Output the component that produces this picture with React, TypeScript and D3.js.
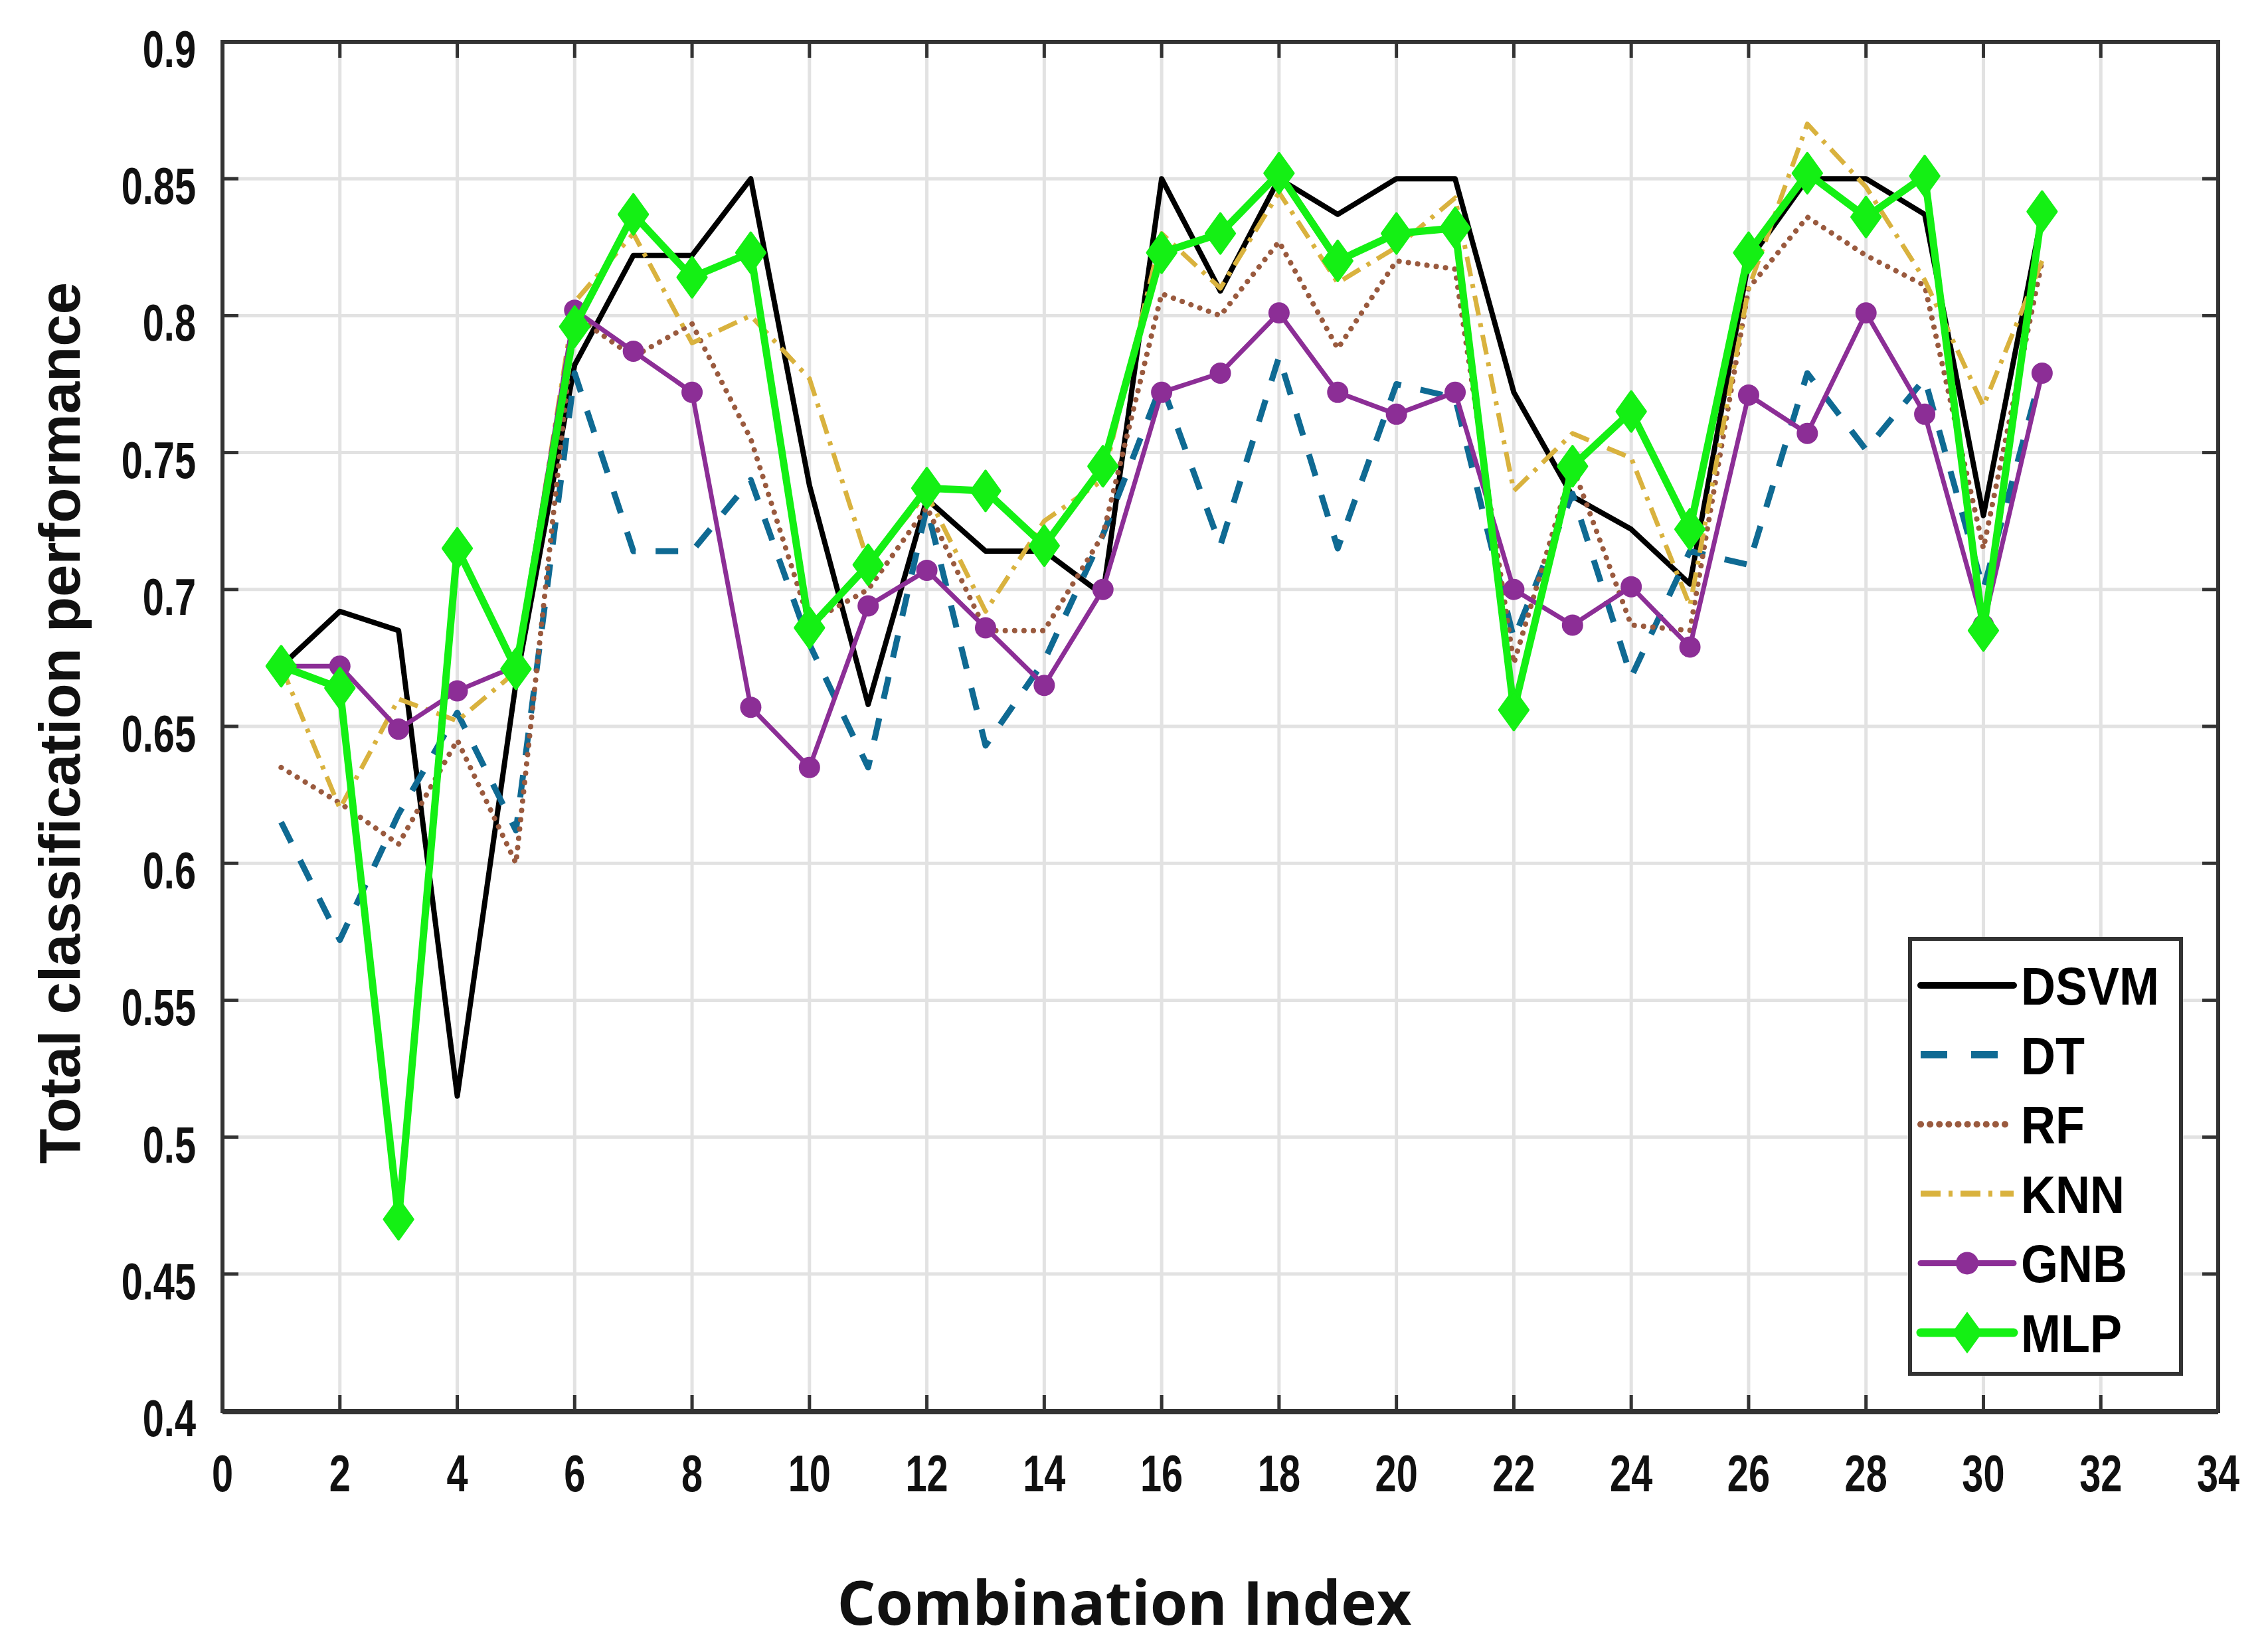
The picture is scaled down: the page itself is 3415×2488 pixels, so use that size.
import { useEffect, useRef } from "react";
import * as d3 from "d3";

// combination index 1..31
const combos = d3.range(1, 32);
const xTicks = d3.range(0, 35, 2);
const yTicks = [0.4, 0.45, 0.5, 0.55, 0.6, 0.65, 0.7, 0.75, 0.8, 0.85, 0.9];

const dsvm = [0.672, 0.692, 0.685, 0.515, 0.666, 0.782, 0.822, 0.822, 0.85, 0.738, 0.658, 0.733, 0.714, 0.714, 0.698, 0.85, 0.809, 0.85, 0.837, 0.85, 0.85, 0.772, 0.734, 0.722, 0.702, 0.82, 0.85, 0.85, 0.837, 0.727, 0.837];
const dt = [0.615, 0.572, 0.618, 0.655, 0.612, 0.779, 0.714, 0.714, 0.74, 0.68, 0.635, 0.73, 0.643, 0.674, 0.72, 0.775, 0.716, 0.785, 0.715, 0.775, 0.77, 0.682, 0.735, 0.668, 0.714, 0.709, 0.779, 0.751, 0.777, 0.7, 0.78];
const rf = [0.635, 0.622, 0.607, 0.645, 0.6, 0.8, 0.785, 0.797, 0.755, 0.688, 0.7, 0.73, 0.685, 0.685, 0.72, 0.808, 0.8, 0.827, 0.788, 0.82, 0.817, 0.673, 0.745, 0.687, 0.685, 0.81, 0.836, 0.822, 0.811, 0.715, 0.82];
const knn = [0.672, 0.62, 0.66, 0.652, 0.67, 0.805, 0.83, 0.79, 0.8, 0.777, 0.71, 0.735, 0.692, 0.725, 0.74, 0.83, 0.81, 0.845, 0.812, 0.825, 0.843, 0.736, 0.757, 0.748, 0.694, 0.81, 0.87, 0.847, 0.813, 0.767, 0.82];
const gnb = [0.672, 0.672, 0.649, 0.663, 0.672, 0.802, 0.787, 0.772, 0.657, 0.635, 0.694, 0.707, 0.686, 0.665, 0.7, 0.772, 0.779, 0.801, 0.772, 0.764, 0.772, 0.7, 0.687, 0.701, 0.679, 0.771, 0.757, 0.801, 0.764, 0.687, 0.779];
const mlp = [0.672, 0.664, 0.47, 0.715, 0.671, 0.796, 0.837, 0.814, 0.823, 0.686, 0.709, 0.737, 0.736, 0.716, 0.745, 0.823, 0.83, 0.852, 0.82, 0.83, 0.832, 0.656, 0.745, 0.765, 0.722, 0.823, 0.852, 0.836, 0.851, 0.685, 0.838];

type Series = { name: string; values: number[]; color: string; width: number; dash: string; cap: string; marker?: "circle" | "diamond" };

const series: Series[] = [
  { name: "DSVM", values: dsvm, color: "#000000", width: 8, dash: "", cap: "round" },
  { name: "DT", values: dt, color: "#0f6a93", width: 9, dash: "34 30", cap: "butt" },
  { name: "RF", values: rf, color: "#9a5a3e", width: 8, dash: "0.1 14", cap: "round" },
  { name: "KNN", values: knn, color: "#d9b23e", width: 7, dash: "30 12 6 12", cap: "butt" },
  { name: "GNB", values: gnb, color: "#8c2e96", width: 7, dash: "", cap: "round", marker: "circle" },
  { name: "MLP", values: mlp, color: "#14f014", width: 11, dash: "", cap: "round", marker: "diamond" },
];

// wide diamond (MATLAB style), size = half height squared
const wideDiamond = {
  draw(ctx: any, size: number) {
    const h = Math.sqrt(size), w = h * 0.72;
    ctx.moveTo(0, -h); ctx.lineTo(w, 0); ctx.lineTo(0, h); ctx.lineTo(-w, 0); ctx.closePath();
  },
};

const W = 3415, H = 2488;
const M = { top: 63, right: 75, bottom: 363, left: 335 };
const FONT = "'Liberation Sans', Arial, Helvetica, sans-serif";

export default function App() {
  const ref = useRef<SVGSVGElement>(null);

  useEffect(() => {
    const el = ref.current;
    if (!el) return;
    const svg = d3.select(el);
    svg.selectAll("*").remove();

    const x = d3.scaleLinear().domain([0, 34]).range([M.left, W - M.right]);
    const y = d3.scaleLinear().domain([0.4, 0.9]).range([H - M.bottom, M.top]);
    const x0 = M.left, x1 = W - M.right, y0 = H - M.bottom, y1 = M.top;

    svg.append("rect").attr("width", W).attr("height", H).attr("fill", "#fff");

    // grid
    const grid = svg.append("g").attr("stroke", "#e2e2e2").attr("stroke-width", 5);
    xTicks.slice(1, -1).forEach((t) => grid.append("line").attr("x1", x(t)).attr("x2", x(t)).attr("y1", y1).attr("y2", y0));
    yTicks.slice(1, -1).forEach((t) => grid.append("line").attr("x1", x0).attr("x2", x1).attr("y1", y(t)).attr("y2", y(t)));

    // lines
    const line = d3.line<number>().x((_d, i) => x(combos[i])).y((d) => y(d));
    series.forEach((s) => {
      svg.append("path").datum(s.values).attr("fill", "none").attr("stroke", s.color)
        .attr("stroke-width", s.width).attr("stroke-dasharray", s.dash)
        .attr("stroke-linejoin", "round").attr("stroke-linecap", s.cap).attr("d", line);
      if (s.marker === "circle") {
        svg.append("g").selectAll("circle").data(s.values).join("circle")
          .attr("cx", (_d, i) => x(combos[i])).attr("cy", (d) => y(d)).attr("r", 16).attr("fill", s.color);
      } else if (s.marker === "diamond") {
        const sym = d3.symbol().type(wideDiamond as any).size(900);
        svg.append("g").selectAll("path").data(s.values).join("path")
          .attr("transform", (d, i) => `translate(${x(combos[i])},${y(d)})`)
          .attr("d", sym()).attr("fill", s.color).attr("stroke", s.color).attr("stroke-width", 4).attr("stroke-linejoin", "round");
      }
    });

    // axes box + ticks
    svg.append("rect").attr("x", x0).attr("y", y1).attr("width", x1 - x0).attr("height", y0 - y1)
      .attr("fill", "none").attr("stroke", "#333").attr("stroke-width", 6);
    svg.append("line").attr("x1", x0).attr("x2", x1).attr("y1", y0 + 1).attr("y2", y0 + 1).attr("stroke", "#333").attr("stroke-width", 8);
    const tk = svg.append("g").attr("stroke", "#333").attr("stroke-width", 5);
    const TL = 24;
    xTicks.forEach((t) => {
      tk.append("line").attr("x1", x(t)).attr("x2", x(t)).attr("y1", y0).attr("y2", y0 - TL);
      tk.append("line").attr("x1", x(t)).attr("x2", x(t)).attr("y1", y1).attr("y2", y1 + TL);
    });
    yTicks.forEach((t) => {
      tk.append("line").attr("x1", x0).attr("x2", x0 + TL).attr("y1", y(t)).attr("y2", y(t));
      tk.append("line").attr("x1", x1).attr("x2", x1 - TL).attr("y1", y(t)).attr("y2", y(t));
    });

    // tick labels (condensed bold)
    const SX = 0.74;
    svg.append("g").selectAll("text").data(xTicks).join("text")
      .attr("transform", (d) => `translate(${x(d)},${y0 + 121}) scale(${SX},1)`).attr("text-anchor", "middle")
      .attr("font-family", FONT).attr("font-weight", "bold").attr("font-size", 78).attr("fill", "#111")
      .text((d) => d);
    svg.append("g").selectAll("text").data(yTicks).join("text")
      .attr("transform", (d) => `translate(${x0 - 40},${y(d) + 38}) scale(${SX},1)`).attr("text-anchor", "end")
      .attr("font-family", FONT).attr("font-weight", "bold").attr("font-size", 78).attr("fill", "#111")
      .text((d) => d3.format("~g")(d));

    // axis titles
    svg.append("text").attr("transform", `translate(${120},${(y0 + y1) / 2 - 5}) rotate(-90)`)
      .attr("text-anchor", "middle").attr("font-family", FONT).attr("font-weight", "bold").attr("font-size", 87)
      .attr("fill", "#111").text("Total classification performance");
    svg.append("text").attr("x", 1693).attr("y", 2447).attr("text-anchor", "middle")
      .attr("font-family", "'Open Sans', 'Noto Sans', sans-serif").attr("font-weight", "bold").attr("font-size", 91)
      .attr("fill", "#111").text("Combination Index");

    // legend
    const lg = svg.append("g");
    lg.append("rect").attr("x", 2876).attr("y", 1414).attr("width", 408).attr("height", 655)
      .attr("fill", "#fff").attr("stroke", "#333").attr("stroke-width", 6);
    series.forEach((s, i) => {
      const cy = 1484 + i * 104.6;
      lg.append("line").attr("x1", 2892).attr("x2", 3032).attr("y1", cy).attr("y2", cy)
        .attr("stroke", s.color).attr("stroke-width", s.width + 2).attr("stroke-dasharray", s.dash === "34 30" ? "40 36" : s.dash)
        .attr("stroke-linecap", s.cap);
      if (s.marker === "circle") lg.append("circle").attr("cx", 2962).attr("cy", cy).attr("r", 17).attr("fill", s.color);
      if (s.marker === "diamond") lg.append("path").attr("transform", `translate(2962,${cy})`)
        .attr("d", d3.symbol().type(wideDiamond as any).size(1000)()).attr("fill", s.color);
      lg.append("text").attr("transform", `translate(3043,${cy + 29}) scale(0.9,1)`).attr("font-family", FONT).attr("font-weight", "bold")
        .attr("font-size", 80).attr("fill", "#000").text(s.name);
    });
  }, []);

  return (
    <div style={{ position: "absolute", left: 0, top: 0 }}>
      <svg ref={ref} width={W} height={H} viewBox={`0 0 ${W} ${H}`} role="img" aria-label="Total classification performance by combination index" />
    </div>
  );
}
